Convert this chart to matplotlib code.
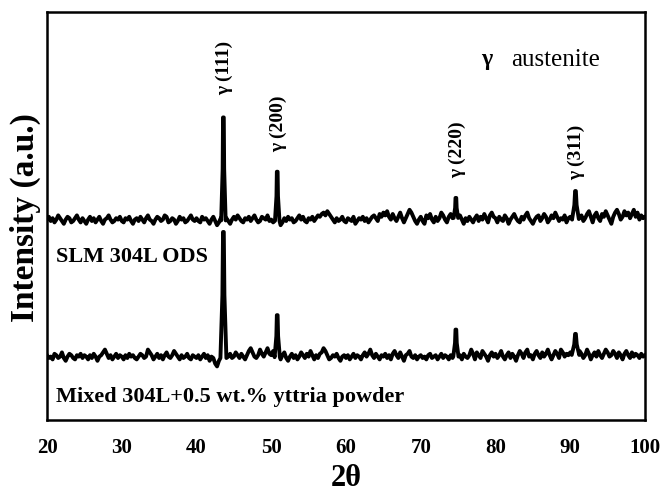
import numpy as np
import matplotlib
matplotlib.use("Agg")
import matplotlib.pyplot as plt

# ---------------- data ----------------
two_theta_start, two_theta_stop = 20.0, 100.0

# background of the SLM 304L ODS pattern, every 0.25 deg (one row = 10 deg)
upper_noise = [
    1, 3, 0, 2, -1, 1, 4, 2, 0, -2, 1, 3, 2, -1, 0, 2, 4, 1, -1, 2, 0, -2, 1, 3, 0, 2, -1, 1, 3, 0, -2, 1, 2, 4, 1, -1, 0, 2, 1, 3,
    0, -1, 2, 1, 3, 0, -2, 1, 2, 0, 3, 1, -1, 2, 4, 1, 0, -2, 1, 3, 2, 0, 1, 4, 3, -1, 0, 2, 1, -2, 0, 3, 1, 2, -1, 0, 2, 4, 1, 0,
    2, 0, -1, 3, 1, 2, 0, -2, 1, 3, 0, -3, -1, 2, 0, 1, 2, 0, -2, 1, 3, 1, 4, 2, 0, -1, 2, 1, 3, 0, 2, 4, 1, -1, 0, 3, 2, 1, 4, 0,
    1, -1, 2, 0, 1, -3, -1, 2, 0, 3, 1, 2, -1, 0, 2, 4, 1, 3, 0, -1, 2, 1, 3, 0, 2, 4, 3, 5, 6, 4, 7, 5, 3, 1, -1, 2, 0, 1, 3, 0,
    -1, 2, 1, 0, 3, -2, 0, 2, 1, 3, 0, 2, -1, 1, 3, 4, 2, 0, 5, 3, 6, 4, 7, 3, 1, 5, 2, 0, 3, 6, 2, -1, 2, 5, 8, 6, 3, 0, -2, 1,
    3, 0, -2, 4, 2, 5, 1, -1, 3, 0, 2, 6, 4, 1, -1, 3, 5, 2, 3, 2, 0, 4, 1, -2, 2, 0, 3, 1, -1, 2, 4, 0, 3, 1, 5, 2, -1, 4, 6, 3,
    2, -1, 3, 1, 0, 4, 2, -2, 1, 3, 5, 2, 0, -1, 3, 1, 4, 6, 2, 0, -2, 1, 3, 4, 0, 2, 5, 3, -1, 1, 4, 2, 6, 3, 0, 2, 1, 4, -1, 2,
    3, 1, -1, 2, 5, 3, 4, 0, 2, 5, 7, 3, -1, 4, 6, 2, 0, 5, 3, 7, 4, 1, -2, 3, 6, 8, 5, 1, 3, 7, 4, 6, 2, 5, 8, 3, 6, 1, 4, 2,
    3,
]
# background of the mixed powder pattern, every 0.25 deg
lower_noise = [
    2, 0, 1, -1, 3, 2, 0, 1, 4, 0, -2, 1, 3, 2, 0, -1, 2, 1, 3, 0, 2, 1, -1, 2, 0, 3, 1, -2, 1, 2, 4, 6, 3, 0, 2, -1, 1, 3, 0, 2,
    1, -1, 2, 0, 3, 1, 2, 0, -1, 1, 3, 2, 0, 1, 6, 4, 2, -1, 1, 3, 0, 2, -1, 2, 4, 1, 0, 2, 5, 3, 1, -1, 2, 0, 1, 3, 0, -1, 2, 1,
    0, 2, -1, 1, 3, 0, 2, -2, 1, 0, -4, -6, -2, 1, 0, 0, 2, 1, 3, 0, 1, 4, 2, 0, 3, 1, -1, 2, 5, 7, 4, 1, 0, 2, 6, 3, 1, 4, 7, 3,
    2, 5, 1, 0, 3, -1, 2, 4, 0, -2, 1, 3, 0, 2, -1, 1, 4, 2, 0, 3, 1, 5, 2, -1, 2, 0, 3, 4, 7, 5, 2, -1, 0, 2, 1, 3, 0, -2, 1, 2,
    0, 2, -1, 1, 3, 0, 2, 1, -1, 2, 4, 1, 3, 6, 2, 0, 3, 1, -1, 2, 1, 3, 0, 2, -1, 3, 5, 2, 0, 4, 1, -2, 2, 3, 5, 1, 0, 2, -1, 1,
    2, 0, 1, -1, 2, 3, 0, 1, 2, -1, 1, 3, 0, 2, 1, -1, 2, 0, 1, 1, 0, 2, -1, 3, 1, 0, 2, 6, 3, -1, 4, 2, 0, 5, 3, 1, -2, 2, 4, 1,
    3, 0, 2, 5, 1, -1, 2, 4, 0, 3, 1, -2, 2, 5, 3, 0, 4, 6, 1, 2, -1, 3, 5, 2, 0, 4, 1, 3, 6, 2, -1, 2, 5, 3, 0, 6, 4, 1, 3, 2,
    4, 1, 3, 2, 1, 5, 3, 0, 2, 6, 3, -1, 2, 4, 1, 5, 2, 0, 3, 6, 4, 1, 2, 5, 3, 0, 4, 2, -1, 3, 5, 2, 0, 4, 1, 3, 2, 0, 3, 1,
    2,
]
noise_scale = 1.4  # background counts -> intensity units

peak_positions = [43.6, 50.8, 74.7, 90.7]
peak_labels = ["γ (111)", "γ (200)", "γ (220)", "γ (311)"]
upper_peak_heights = [103, 49, 20, 28]
lower_peak_heights = [126, 42, 27, 21]
upper_half_widths = [0.3, 0.3, 0.3, 0.45]
lower_half_widths = [0.4, 0.35, 0.35, 0.5]
upper_offset = 137

series_labels = ["SLM 304L ODS", "Mixed 304L+0.5 wt.% yttria powder"]
x_ticks = [20, 30, 40, 50, 60, 70, 80, 90, 100]


def build_pattern(noise, heights, half_widths):
    x = np.linspace(two_theta_start, two_theta_stop, len(noise))
    y = np.array(noise, dtype=float) * noise_scale
    keep = np.ones_like(x, dtype=bool)
    for p, w in zip(peak_positions, half_widths):
        keep &= np.abs(x - p) > w
    xs, ys = list(x[keep]), list(y[keep])
    for p, h, w in zip(peak_positions, heights, half_widths):
        base = np.interp(p, x, y)
        for dx, frac in [(-w, 0.0), (-w / 3, 0.5), (-0.05, 1.0),
                         (0.05, 1.0), (w / 3, 0.5), (w, 0.0)]:
            xs.append(p + dx)
            ys.append(base + frac * h)
    order = np.argsort(xs)
    return np.array(xs)[order], np.array(ys)[order]


# ---------------- figure ----------------
W, H = 662, 495
fig = plt.figure(figsize=(W / 100, H / 100), dpi=100)
ax = fig.add_axes([47 / W, 1 - 420 / H, (645 - 47) / W, (420 - 12) / H])

serif = ["Liberation Serif", "DejaVu Serif"]

xu, yu = build_pattern(upper_noise, upper_peak_heights, upper_half_widths)
xl, yl = build_pattern(lower_noise, lower_peak_heights, lower_half_widths)
ax.plot(xu, yu + upper_offset, color="black", lw=2.8, solid_joinstyle="round")
ax.plot(xl, yl, color="black", lw=2.8, solid_joinstyle="round")

ax.set_xlim(20, 100)
ax.set_ylim(-62, 346)
ax.set_yticks([])
ax.set_xticks(x_ticks)
ax.set_xticklabels([str(t) for t in x_ticks], fontfamily=serif,
                   fontweight="bold", fontsize=15)
ax.tick_params(axis="x", length=0, pad=13)
for s in ax.spines.values():
    s.set_linewidth(1.8)

# peak labels (above the upper pattern)
label_bottoms = [95, 152, 178, 180]  # pixel rows of label bottoms
for p, lab, yb in zip(peak_positions, peak_labels, label_bottoms):
    ax.text(p + 0.15, 358 - yb, lab, rotation=90, ha="center", va="bottom",
            fontfamily=serif, fontweight="bold", fontsize=14)

ax.text(78.1, 358 - 60, "γ", ha="left", va="center", fontfamily=serif,
        fontweight="bold", fontsize=17)
ax.text(82.1, 358 - 60, "austenite", ha="left", va="center",
        fontfamily=serif, fontsize=18)

ax.text(21.2, 358 - 257, series_labels[0], ha="left", va="center",
        fontfamily=serif, fontweight="bold", fontsize=16)
ax.text(21.2, 358 - 397, series_labels[1], ha="left", va="center",
        fontfamily=serif, fontweight="bold", fontsize=16)

fig.text(346 / W, 1 - 478 / H, "2θ", ha="center", va="center",
         fontfamily=serif, fontweight="bold", fontsize=22)
fig.text(25 / W, 1 - 218 / H, "Intensity (a.u.)", ha="center", va="center",
         rotation=90, fontfamily=serif, fontweight="bold", fontsize=24)

fig.savefig("out.png", dpi=100)
